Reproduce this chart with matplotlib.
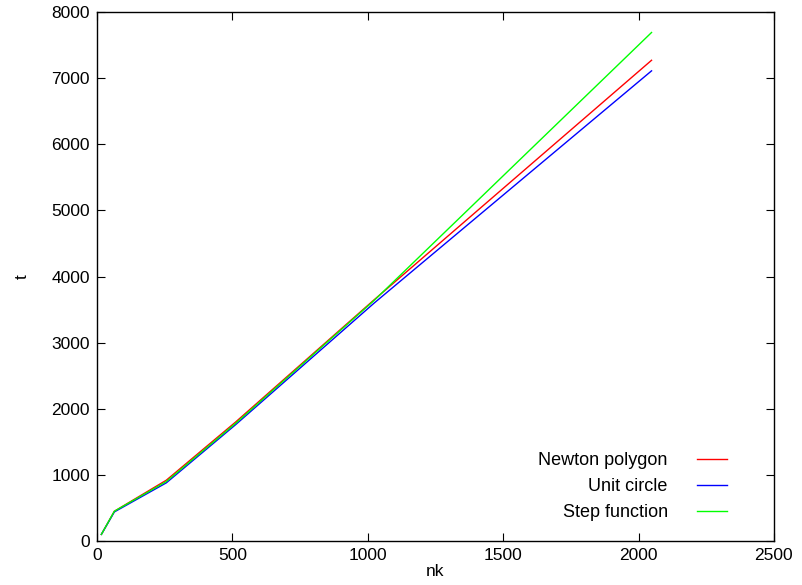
import matplotlib
matplotlib.use("Agg")
import matplotlib.pyplot as plt

plt.rcParams['font.family'] = ['Liberation Sans', 'DejaVu Sans']

# data
nk = [16, 64, 256, 512, 1024, 2048]
newton = [100, 450, 920, 1800, 3650, 7270]
unit_circle = [100, 440, 880, 1760, 3600, 7110]
step_func = [100, 450, 900, 1780, 3640, 7690]

fs = 12.5

fig = plt.figure(figsize=(8.02, 5.85), dpi=100)
ax = fig.add_axes([0.121, 0.0752, 0.844, 0.9043])

ax.plot(nk, newton, color='#ff0000', lw=1, label='Newton polygon')
ax.plot(nk, unit_circle, color='#0000ff', lw=1, label='Unit circle')
ax.plot(nk, step_func, color='#00ff00', lw=1, label='Step function')

ax.set_xlim(0, 2500)
ax.set_ylim(0, 8000)
ax.set_xticks(range(0, 2501, 500))
ax.set_yticks(range(0, 8001, 1000))
ax.tick_params(direction='in', length=6, width=0.8, top=True, right=True,
               labelsize=fs, pad=5)
for s in ax.spines.values():
    s.set_linewidth(1)

ax.set_xlabel('nk', fontsize=fs, labelpad=1)
ax.set_ylabel('t', fontsize=fs, labelpad=16)

ax.legend(loc='lower right', frameon=False, markerfirst=False, fontsize=13,
          handlelength=1.65, handletextpad=1.6, labelspacing=0.5,
          borderpad=0, borderaxespad=0, bbox_to_anchor=(0.93, 0.037))

fig.savefig('out.png', dpi=100)
